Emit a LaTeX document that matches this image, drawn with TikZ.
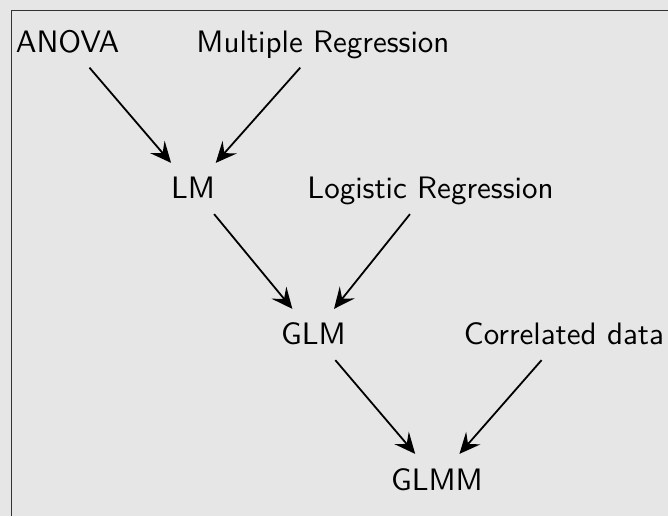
\documentclass[tikz,border=0pt]{standalone}
\usetikzlibrary{arrows.meta}
\definecolor{bgc}{RGB}{230,230,230}
\begin{document}
\begin{tikzpicture}[x=1pt,y=-1pt,
  lbl/.style={font=\sffamily\fontsize{10}{12}\selectfont, scale=3.1, transform shape, text height=6.77pt, text depth=0pt, inner xsep=3.2pt, inner ysep=4.68pt},
  conn/.style={-{Stealth[length=21pt,width=19pt,inset=8pt]}, line width=1.8pt, black}]
\fill[bgc] (0,0) rectangle (668,516);
\useasboundingbox (0,0) rectangle (668,516);
\draw[line width=1pt, black!80] (11,516) -- (11,11) -- (668,11);
\node[lbl] (anova) at (67.5,42) {ANOVA};
\node[lbl] (mr) at (323,42) {Multiple Regression};
\node[lbl] (lm) at (193,188.5) {LM};
\node[lbl] (lr) at (430.5,188.5) {Logistic Regression};
\node[lbl] (glm) at (313.5,334.5) {GLM};
\node[lbl] (cd) at (564,334.5) {Correlated data};
\node[lbl] (glmm) at (437,479.5) {GLMM};
\draw[conn] (anova) -- (lm);
\draw[conn] (mr) -- (lm);
\draw[conn] (lm) -- (glm);
\draw[conn] (lr) -- (glm);
\draw[conn] (glm) -- (glmm);
\draw[conn] (cd) -- (glmm);
\end{tikzpicture}
\end{document}
